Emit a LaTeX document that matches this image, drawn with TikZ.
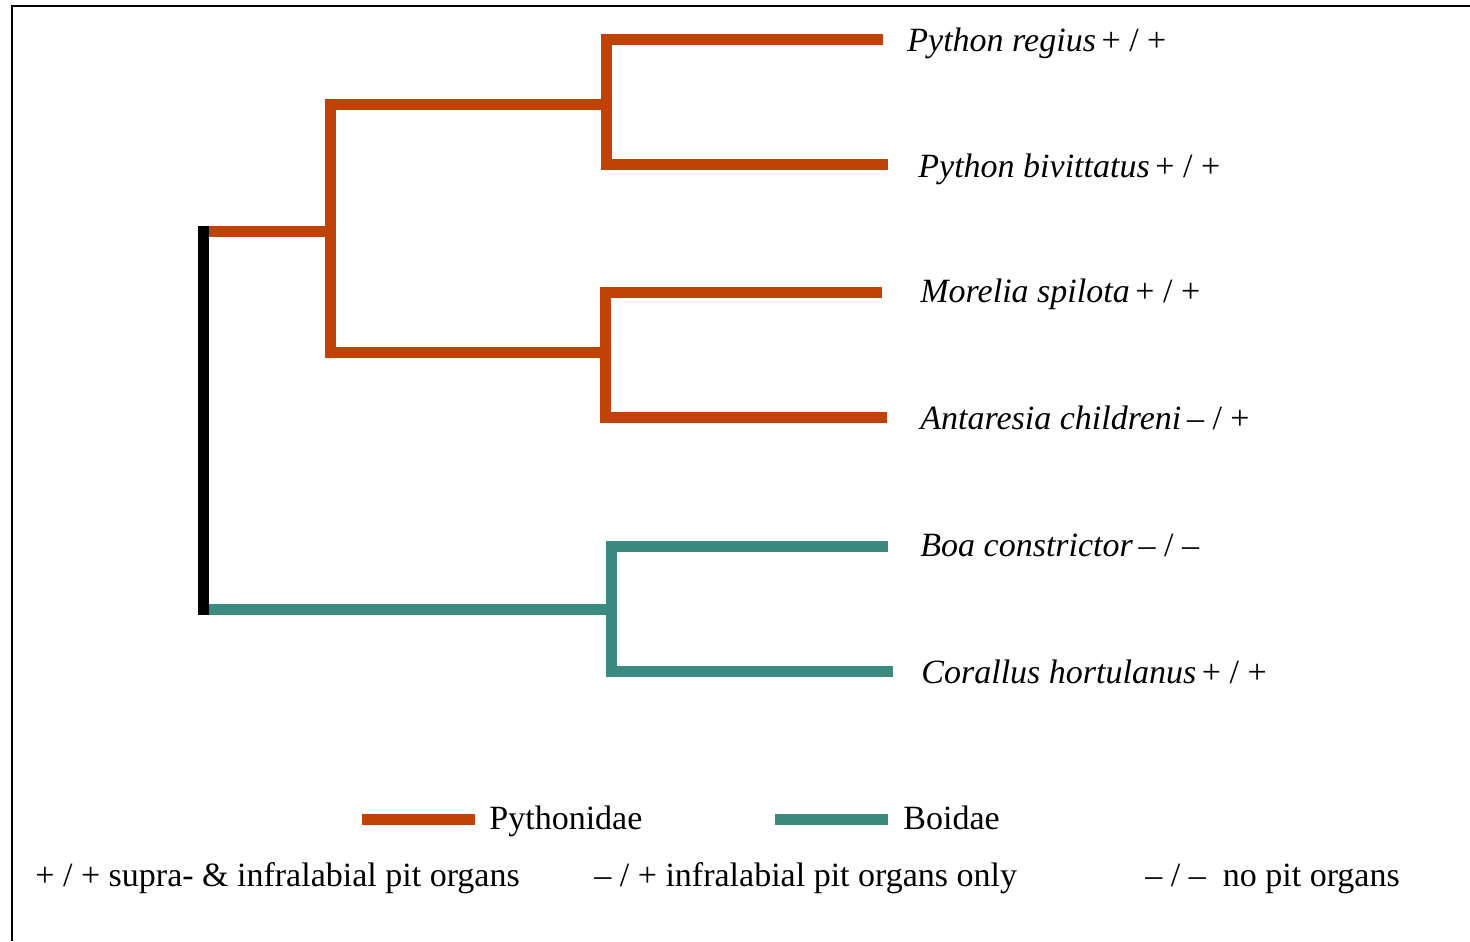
\documentclass[tikz,border=0pt]{standalone}
\usepackage{fontspec}
\setmainfont{Liberation Serif}
\usetikzlibrary{positioning}
\definecolor{pythorange}{RGB}{192,66,4}
\definecolor{boateal}{RGB}{58,138,128}

\tikzset{
  branch/.style={line width=5.5pt, line join=miter},
  pyth/.style={branch, pythorange},
  boa/.style={branch, boateal},
  taxon/.style={anchor=base west, inner sep=0pt, font=\fontsize{17}{20}\selectfont},
  legend/.style={anchor=base west, inner sep=0pt, font=\fontsize{17}{20}\selectfont},
}

\begin{document}
\begin{tikzpicture}[x=0.5pt,y=-0.5pt]
\useasboundingbox (0,0) rectangle (1470,941);

    % frame
    \draw[line width=1pt] (12,941) -- (12,6) -- (1470,6);

    % inner nodes of the tree
    \coordinate (root)  at (203,231);
    \coordinate (rootB) at (203,609);
    \coordinate (pyA)   at (330,231);
    \coordinate (pyB)   at (606,105);
    \coordinate (pyC)   at (605,352);
    \coordinate (boaA)  at (611,609);

    % tips
    \coordinate (t1) at (883,40);
    \coordinate (t2) at (888,165);
    \coordinate (t3) at (882,292);
    \coordinate (t4) at (887,417);
    \coordinate (t5) at (888,546);
    \coordinate (t6) at (893,671);

    % Pythonidae
    \draw[pyth] (root) -- (pyA);
    \draw[pyth] (pyB) -- (pyB -| pyA) -- (pyC -| pyA) -- (pyC);
    \draw[pyth] (t1) -- (t1 -| pyB) -- (t2 -| pyB) -- (t2);
    \draw[pyth] (t3) -- (t3 -| pyC) -- (t4 -| pyC) -- (t4);

    % Boidae
    \draw[boa] (rootB) -- (boaA);
    \draw[boa] (t5) -- (t5 -| boaA) -- (t6 -| boaA) -- (t6);

    % root
    \draw[line width=5.5pt, line cap=rect] (root) -- (rootB);

    % species
    \node[taxon] (regius)   at (907,52)  {\textit{Python regius}\,+ / +};
    \node[taxon] (bivitt)   at (918,177) {\textit{Python bivittatus}\,+ / +};
    \node[taxon] (morelia)  at (920,302) {\textit{Morelia spilota}\,+ / +};
    \node[taxon] (antares)  at (920,429) {\textit{Antaresia childreni}\,– / +};
    \node[taxon] (boa)      at (920,556) {\textit{Boa constrictor}\,– / –};
    \node[taxon] (corallus) at (921,683) {\textit{Corallus hortulanus}\,+ / +};

    % legend
    \coordinate (lgPa) at (362,819);
    \coordinate (lgPb) at (475,819);
    \coordinate (lgBa) at (775,819);
    \coordinate (lgBb) at (888,819);
    \draw[pyth] (lgPa) -- (lgPb);
    \draw[boa] (lgBa) -- (lgBb);
    \node[legend] (lgPyth) at (489,829) {Pythonidae};
    \node[legend] (lgBoid) at (903,829) {Boidae};

    \node[legend] (keyA) at (35,886)   {+ / + supra- \& infralabial pit organs};
    \node[legend] (keyB) at (594,886)  {– / + infralabial pit organs only};
    \node[legend] (keyC) at (1145,886) {– / –\ \ no pit organs};

\end{tikzpicture}
\end{document}
